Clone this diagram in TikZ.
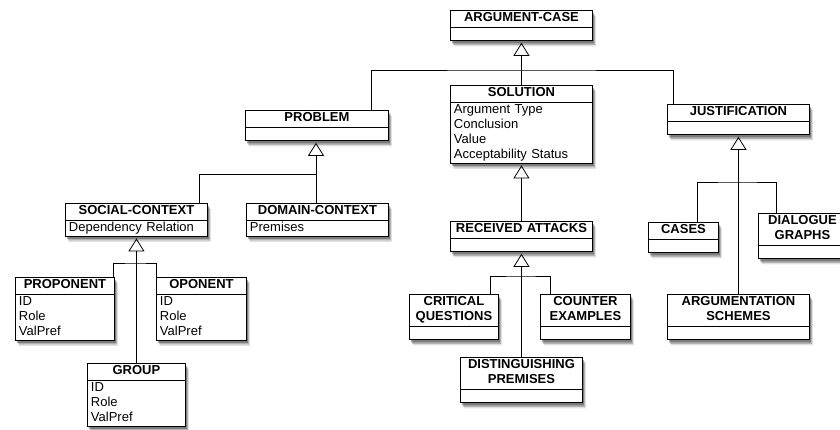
\documentclass[tikz,border=0pt]{standalone}
\usepackage{fontspec}
\setmainfont{Liberation Sans}
\usetikzlibrary{shapes.multipart,shadows,arrows.meta}
\tikzset{
  uml_box/.style = {rectangle split, rectangle split parts=2, anchor=north west,
    draw=black, line width=0.9pt, fill=white, inner xsep=3.5pt, inner ysep=0.3pt,
    text width=#1, font=\fontsize{13}{15}\selectfont,
    drop shadow={shadow xshift=1.5pt, shadow yshift=-2.5pt, fill=black, opacity=0.3},
    drop shadow={shadow xshift=2.5pt, shadow yshift=-4pt, fill=black, opacity=0.2},
    drop shadow={shadow xshift=3.5pt, shadow yshift=-5.5pt, fill=black, opacity=0.12}},
  uml_link/.style = {draw=black, line width=0.8pt},
  uml_gen/.style = {uml_link, shorten >=1.5pt,
    -{Triangle[open, width=16pt, length=13pt, line width=0.8pt]}}
}
\newcommand{\umlhead}[1]{\centering\bfseries\strut#1\strut\par}
\newcommand{\umlbody}[1]{\raggedright\strut#1\strut\par}
\newcommand{\umlnone}{\rule{0pt}{12.4pt}\par}

\begin{document}
\begin{tikzpicture}[x=1pt, y=-1pt]
\useasboundingbox[fill=white] (0,0) rectangle (840,429);

% classes
\node [uml_box=135pt] (ac) at (450,10) {\umlhead{ARGUMENT-CASE}\nodepart{two}\umlnone};
\node [uml_box=136pt] (prob) at (245,110) {\umlhead{PROBLEM}\nodepart{two}\umlnone};
\node [uml_box=135pt] (sol) at (450,85) {\umlhead{SOLUTION}\nodepart{two}\umlbody{Argument Type\\Conclusion\\Value\\Acceptability Status}};
\node [uml_box=135pt] (just) at (667,104) {\umlhead{JUSTIFICATION}\nodepart{two}\umlnone};

\node [uml_box=135pt] (soc) at (65,203) {\umlhead{SOCIAL-CONTEXT}\nodepart{two}\umlbody{Dependency Relation}};
\node [uml_box=135pt] (dom) at (246,203) {\umlhead{DOMAIN-CONTEXT}\nodepart{two}\umlbody{Premises}};
\node [uml_box=92pt] (prop) at (15,277) {\umlhead{PROPONENT}\nodepart{two}\umlbody{ID\\Role\\ValPref}};
\node [uml_box=83pt] (opon) at (156,277) {\umlhead{OPONENT}\nodepart{two}\umlbody{ID\\Role\\ValPref}};
\node [uml_box=91pt] (grp) at (87,363) {\umlhead{GROUP}\nodepart{two}\umlbody{ID\\Role\\ValPref}};

\node [uml_box=135pt] (recv) at (450,221) {\umlhead{RECEIVED ATTACKS}\nodepart{two}\umlnone};
\node [uml_box=82pt] (crit) at (409,294) {\umlhead{CRITICAL\\QUESTIONS}\nodepart{two}\umlnone};
\node [uml_box=83pt] (count) at (540,294) {\umlhead{COUNTER\\EXAMPLES}\nodepart{two}\umlnone};
\node [uml_box=115pt] (dist) at (460,357) {\umlhead{DISTINGUISHING\\PREMISES}\nodepart{two}\umlnone};

\node [uml_box=63pt] (cases) at (648,222) {\umlhead{CASES}\nodepart{two}\umlnone};
\node [uml_box=81pt] (dial) at (758,213) {\umlhead{DIALOGUE\\GRAPHS}\nodepart{two}\umlnone};
\node [uml_box=135pt] (schemes) at (667,294) {\umlhead{ARGUMENTATION\\SCHEMES}\nodepart{two}\umlnone};

% forks
\coordinate (ac_fork) at (521,70);
\coordinate (prob_fork) at (316,174);
\coordinate (soc_fork) at (136,263);
\coordinate (recv_fork) at (521,276);
\coordinate (just_fork) at (738,182);

% generalizations
\draw [uml_gen] (sol.north) -- (ac.south);
\draw [uml_link] (prob.north -| 371,0) |- (ac_fork) -| (just.north -| 673,0);

\draw [uml_gen] (dom.north -| prob_fork) -- (prob.south -| prob_fork);
\draw [uml_link] (soc.north -| 199,0) |- (prob_fork);

\draw [uml_gen] (grp.north) -- (soc.south);
\draw [uml_link] (prop.north -| 113,0) |- (soc_fork) -| (opon.north -| 156,0);

\draw [uml_gen] (recv.north) -- (sol.south);
\draw [uml_gen] (dist.north) -- (recv.south);
\draw [uml_link] (crit.north -| 490,0) |- (recv_fork) -| (count.north -| 550,0);

\draw [uml_gen] (schemes.north) -- (just.south);
\draw [uml_link] (cases.north -| 697,0) |- (just_fork) -| (dial.north -| 776,0);
\end{tikzpicture}
\end{document}
